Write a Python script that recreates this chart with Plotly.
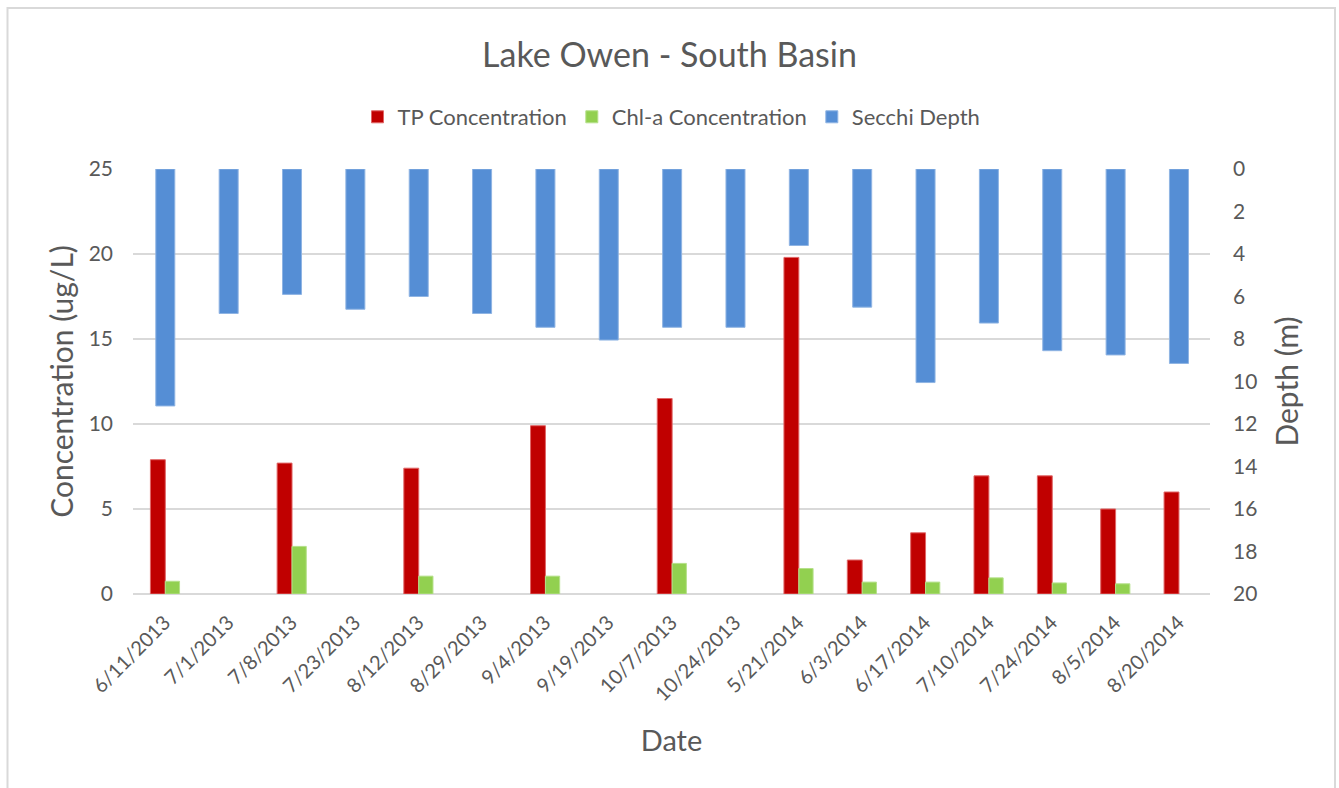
import plotly.graph_objects as go

# Sampling dates (categorical x axis)
dates = ["6/11/2013", "7/1/2013", "7/8/2013", "7/23/2013", "8/12/2013", "8/29/2013",
         "9/4/2013", "9/19/2013", "10/7/2013", "10/24/2013", "5/21/2014", "6/3/2014",
         "6/17/2014", "7/10/2014", "7/24/2014", "8/5/2014", "8/20/2014"]

# Total phosphorus (ug/L); None where not sampled
tp = [7.9, None, 7.7, None, 7.4, None, 9.9, None, 11.5, None, 19.8, 2.0,
      3.6, 6.95, 6.95, 5.0, 6.0]

# Chlorophyll-a (ug/L)
chla = [0.75, None, 2.8, None, 1.05, None, 1.05, None, 1.8, None, 1.5, 0.7,
        0.7, 0.95, 0.65, 0.6, None]

# Secchi depth (m)
secchi = [11.15, 6.8, 5.9, 6.6, 6.0, 6.8, 7.45, 8.05, 7.45, 7.45, 3.6, 6.5,
          10.05, 7.25, 8.55, 8.75, 9.15]

TXT = "#595959"
GRID = "#d9d9d9"
FONT = "Lato, 'Open Sans', sans-serif"

fig = go.Figure()

fig.add_trace(go.Bar(
    x=dates, y=secchi, name="Secchi Depth", yaxis="y2",
    marker=dict(color="#558ed5", line=dict(color="#8fb4e3", width=1)),
    width=0.3, offset=-0.14, base=0, legendrank=3,
))
fig.add_trace(go.Bar(
    x=dates, y=tp, name="TP Concentration",
    marker=dict(color="#c00000", line=dict(color="#e06666", width=1)),
    width=0.235, offset=-0.225, legendrank=1,
))
fig.add_trace(go.Bar(
    x=dates, y=chla, name="Chl-a Concentration",
    marker=dict(color="#92d050", line=dict(color="#b5e08a", width=1)),
    width=0.225, offset=0.01, legendrank=2,
))

# Outer chart frame
PW, PH = 1339 - 133 - 129, 788 - 169 - 194
fig.add_shape(
    type="rect", xref="paper", yref="paper",
    x0=(7.5 - 133) / PW, x1=(1335 - 133) / PW,
    y0=(594 - 800) / PH, y1=(594 - 8) / PH,
    line=dict(color=GRID, width=2), fillcolor="rgba(0,0,0,0)", layer="below",
)

fig.update_layout(
    width=1339, height=788,
    margin=dict(l=133, r=129, t=169, b=194),
    paper_bgcolor="white", plot_bgcolor="white",
    font=dict(family=FONT, color=TXT, size=21),
    barmode="overlay",
    title=dict(text="Lake Owen - South Basin", x=0.5, xanchor="center",
               y=1 - 55 / 788, yanchor="middle",
               font=dict(size=34, color=TXT, family=FONT)),
    legend=dict(orientation="h", x=0.5, xanchor="center",
                y=(594 - 117) / PH, yanchor="middle",
                traceorder="normal", font=dict(size=22, color=TXT),
                itemwidth=30),
    xaxis=dict(type="category", range=[-0.5, 16.5], tickangle=-45,
               showgrid=False, showline=False, ticks="",
               ticklabelstandoff=12,
               tickfont=dict(size=20, color=TXT),
               title=dict(text="Date", font=dict(size=29, color=TXT), standoff=26)),
    yaxis=dict(range=[0, 25], dtick=5, showgrid=True, gridcolor=GRID, gridwidth=1.5,
               zeroline=True, zerolinecolor=GRID, zerolinewidth=1.5,
               showline=False, ticks="", ticklabelstandoff=19,
               tickfont=dict(size=21, color=TXT),
               title=dict(text="Concentration (ug/L)", font=dict(size=30, color=TXT),
                          standoff=6)),
    yaxis2=dict(range=[20, 0], dtick=2, overlaying="y", side="right",
                showgrid=False, zeroline=False, showline=False, ticks="",
                ticklabelstandoff=22,
                tickfont=dict(size=21, color=TXT),
                title=dict(text="Depth (m)", font=dict(size=30, color=TXT), standoff=20)),
)

fig.write_html("out.html")
